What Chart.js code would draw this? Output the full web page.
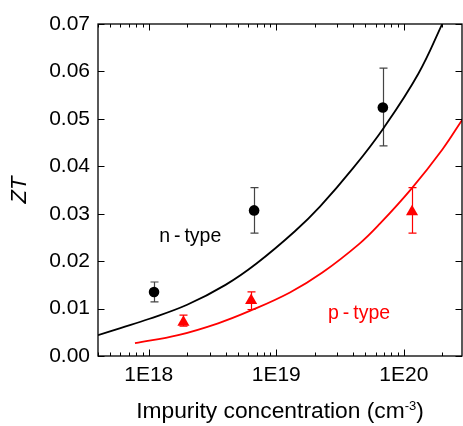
<!DOCTYPE html>
<html>
<head>
<meta charset="utf-8">
<script src="https://cdn.jsdelivr.net/npm/chart.js@4.4.1/dist/chart.umd.min.js"></script>
<style>
html, body { margin: 0; padding: 0; background: #fff; overflow: hidden; }
canvas { display: block; }
</style>
</head>
<body>
<canvas id="ztChart" width="463" height="426"></canvas>
<script>
// axis ranges and ticks
const xMin = 4.0e17;
const xMax = 2.86e20;
const xMajorTicks = [1e18, 1e19, 1e20];
const xTickLabels = ['1E18', '1E19', '1E20'];
const yTickValues = [0, 0.01, 0.02, 0.03, 0.04, 0.05, 0.06, 0.07];
const yTickLabels = ['0.00', '0.01', '0.02', '0.03', '0.04', '0.05', '0.06', '0.07'];

// calculated curves
const nCurveX = [4.0e17, 6.0e17, 1.0e18, 2.0e18, 4.0e18, 7.0e18, 1.4e19, 2.2e19, 4.0e19, 7.0e19, 1.3e20, 2.05e20];
const nCurveY = [0.0044, 0.0059, 0.0078, 0.0108, 0.0150, 0.0195, 0.0263, 0.0315, 0.0396, 0.0482, 0.0595, 0.0706];
const pCurveX = [7.8e17, 1.7e18, 3.5e18, 6.2e18, 1.28e19, 2.3e19, 4.5e19, 6.5e19, 1.15e20, 2.0e20, 2.9e20];
const pCurveY = [0.0027, 0.0044, 0.0069, 0.0095, 0.0134, 0.0176, 0.0237, 0.0279, 0.0353, 0.0435, 0.0500];

// measured points with error bars
const nX = [1.1e18, 6.7e18, 6.85e19];
const nY = [0.0135, 0.0307, 0.0524];
const nLo = [0.0114, 0.0259, 0.0443];
const nHi = [0.0156, 0.0355, 0.0607];
const pX = [1.87e18, 6.35e18, 1.16e20];
const pY = [0.0071, 0.0117, 0.0304];
const pLo = [0.0063, 0.0098, 0.0259];
const pHi = [0.0086, 0.0135, 0.0355];

// label anchors (data coordinates)
const nLabel = { text: 'n\u2009-\u2009type', x: 1.21e18, y: 0.0241, color: '#000' };
const pLabel = { text: 'p\u2009-\u2009type', x: 2.55e19, y: 0.0079, color: '#ff0000' };

const FONT = "'Liberation Sans', Arial, sans-serif";
Chart.defaults.font.family = FONT;

const toPoints = (xs, ys) => xs.map((v, i) => ({ x: v, y: ys[i] }));

const errorSets = [
    { xs: nX, lo: nLo, hi: nHi, color: '#444' },
    { xs: pX, lo: pLo, hi: pHi, color: '#ff0000' }
];

const framePlugin = {
    id: 'frame',
    beforeDatasetsDraw(chart) {
        const { ctx, scales: { x, y } } = chart;
        ctx.save();
        ctx.lineWidth = 1.2;
        errorSets.forEach((set) => {
            ctx.strokeStyle = set.color;
            set.xs.forEach((xv, i) => {
                const px = Math.round(x.getPixelForValue(xv)) + 0.5;
                const lo = y.getPixelForValue(set.lo[i]);
                const hi = y.getPixelForValue(set.hi[i]);
                ctx.beginPath();
                ctx.moveTo(px, lo);
                ctx.lineTo(px, hi);
                ctx.moveTo(px - 4, lo);
                ctx.lineTo(px + 4, lo);
                ctx.moveTo(px - 4, hi);
                ctx.lineTo(px + 4, hi);
                ctx.stroke();
            });
        });
        ctx.restore();
    },
    afterDraw(chart) {
        const { ctx, chartArea: a, scales: { x, y } } = chart;
        ctx.save();
        ctx.strokeStyle = '#000';
        ctx.lineWidth = 1.3;
        ctx.strokeRect(a.left, a.top, a.right - a.left, a.bottom - a.top);

        // inward tick marks
        ctx.lineWidth = 1;
        ctx.beginPath();
        for (let e = 17; e <= 20; e++) {
            for (let m = 1; m <= 9; m++) {
                const v = m * Math.pow(10, e);
                if (v < xMin || v > xMax) continue;
                const px = Math.round(x.getPixelForValue(v)) + 0.5;
                const len = m === 1 ? 6.5 : 3.5;
                ctx.moveTo(px, a.bottom);
                ctx.lineTo(px, a.bottom - len);
                ctx.moveTo(px, a.top);
                ctx.lineTo(px, a.top + len);
            }
        }
        yTickValues.forEach((v) => {
            const py = Math.round(y.getPixelForValue(v)) + 0.5;
            ctx.moveTo(a.left, py);
            ctx.lineTo(a.left + 6.5, py);
            ctx.moveTo(a.right, py);
            ctx.lineTo(a.right - 6.5, py);
        });
        ctx.stroke();

        // curve labels
        ctx.font = '19.5px ' + FONT;
        ctx.textBaseline = 'alphabetic';
        ctx.textAlign = 'left';
        [nLabel, pLabel].forEach((l) => {
            ctx.fillStyle = l.color;
            ctx.fillText(l.text, x.getPixelForValue(l.x), y.getPixelForValue(l.y));
        });

        // x axis title with superscript
        const main = 'Impurity concentration (cm';
        const sup = '-3';
        const tail = ')';
        const bigFont = '22.8px ' + FONT;
        const smallFont = '13px ' + FONT;
        ctx.font = bigFont;
        const wMain = ctx.measureText(main).width;
        const wTail = ctx.measureText(tail).width;
        ctx.font = smallFont;
        const wSup = ctx.measureText(sup).width;
        const total = wMain + wSup + wTail;
        let tx = (a.left + a.right) / 2 - total / 2;
        const base = 418;
        ctx.fillStyle = '#000';
        ctx.font = bigFont;
        ctx.fillText(main, tx, base);
        tx += wMain;
        ctx.font = smallFont;
        ctx.fillText(sup, tx, base - 8);
        tx += wSup;
        ctx.font = bigFont;
        ctx.fillText(tail, tx, base);
        ctx.restore();
    }
};

new Chart(document.getElementById('ztChart'), {
    type: 'scatter',
    data: {
        datasets: [
            {
                label: 'n-type data',
                data: toPoints(nX, nY),
                pointStyle: 'circle',
                pointRadius: 5.3,
                backgroundColor: '#000',
                borderColor: '#000',
                borderWidth: 0
            },
            {
                label: 'p-type data',
                data: toPoints(pX, pY),
                pointStyle: 'triangle',
                pointRadius: 7,
                backgroundColor: '#ff0000',
                borderColor: '#ff0000',
                borderWidth: 0
            },
            {
                label: 'n-type calc',
                data: toPoints(nCurveX, nCurveY),
                showLine: true,
                pointRadius: 0,
                borderColor: '#000',
                borderWidth: 1.8,
                tension: 0.4
            },
            {
                label: 'p-type calc',
                data: toPoints(pCurveX, pCurveY),
                showLine: true,
                pointRadius: 0,
                borderColor: '#ff0000',
                borderWidth: 1.8,
                tension: 0.4
            }
        ]
    },
    options: {
        responsive: false,
        animation: false,
        devicePixelRatio: 1,
        layout: {
            autoPadding: false,
            padding: { top: 24, right: 1, left: 0, bottom: 0 }
        },
        scales: {
            x: {
                type: 'logarithmic',
                position: 'bottom',
                min: xMin,
                max: xMax,
                afterBuildTicks: (s) => { s.ticks = xMajorTicks.map((v) => ({ value: v })); },
                afterFit: (s) => {
                    s.height = 70;
                    s.paddingLeft = 0;
                    s.paddingRight = 0;
                },
                grid: { display: false, drawTicks: false },
                border: { display: false },
                ticks: {
                    padding: 7,
                    color: '#000',
                    font: { size: 21 },
                    maxRotation: 0,
                    autoSkip: false,
                    callback: (v, i) => xTickLabels[i]
                }
            },
            y: {
                type: 'linear',
                min: 0,
                max: 0.07,
                afterBuildTicks: (s) => { s.ticks = yTickValues.map((v) => ({ value: v })); },
                afterFit: (s) => {
                    s.width = 98;
                    s.paddingTop = 0;
                    s.paddingBottom = 0;
                },
                grid: { display: false, drawTicks: false },
                border: { display: false },
                ticks: {
                    padding: 8,
                    color: '#000',
                    font: { size: 21 },
                    callback: (v, i) => yTickLabels[i]
                },
                title: {
                    display: true,
                    text: 'ZT',
                    color: '#000',
                    font: { size: 22, style: 'italic' },
                    padding: { top: 7, bottom: 0 }
                }
            }
        },
        plugins: {
            legend: { display: false },
            tooltip: { enabled: false }
        }
    },
    plugins: [framePlugin]
});
</script>
</body>
</html>
